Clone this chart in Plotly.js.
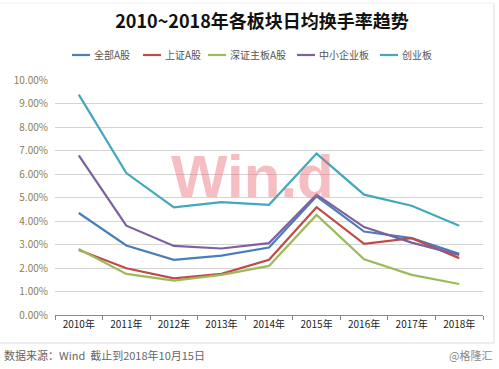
<!DOCTYPE html>
<html><head><meta charset="utf-8">
<script src="https://cdn.plot.ly/plotly-3.0.1.min.js"></script>
<style>html,body{margin:0;padding:0;background:#fff}#c{width:499px;height:369px}</style>
</head><body><div id="c"></div>
<script>
var years = ["2010年","2011年","2012年","2013年","2014年","2015年","2016年","2017年","2018年"];
var allA = [4.34, 2.96, 2.35, 2.53, 2.87, 5.05, 3.55, 3.27, 2.60];
var shA = [2.77, 1.99, 1.56, 1.75, 2.35, 4.59, 3.03, 3.27, 2.42];
var szMain = [2.81, 1.75, 1.46, 1.71, 2.09, 4.26, 2.37, 1.71, 1.32];
var sme = [6.79, 3.80, 2.94, 2.83, 3.06, 5.12, 3.74, 3.08, 2.56];
var gem = [9.38, 6.04, 4.58, 4.80, 4.69, 6.87, 5.12, 4.65, 3.80];
var names = ["全部A股","上证A股","深证主板A股","中小企业板","创业板"];
var colors = ["#4a7ebb","#be4b48","#9bbb59","#7d60a0","#42a8bc"];
var series = [allA, shA, szMain, sme, gem];
var yTicks = [0,1,2,3,4,5,6,7,8,9,10];
var yTickText = yTicks.map(function(v){return v.toFixed(2)+"%";});

var F = '"Microsoft YaHei","Noto Sans CJK SC","DejaVu Sans",sans-serif';
var traces = series.map(function(s,i){
  return {x: years, y: s, name: names[i], type:'scatter', mode:'lines',
    line:{color:colors[i], width:2.2}};
});
var W=499, H=369;
var L=55, R=483, T=80, B=315;
function px(x){return (x-L)/(R-L);}
function py(y){return (B-y)/(B-T);}

// manual legend (swatch start x in px)
var legX = [72, 143, 208, 297, 380];
var legY = 55;
var annotations = [
  {text:'<b>Win.d</b>', xref:'paper', yref:'paper', x:px(252), y:py(176), xanchor:'center', yanchor:'middle', showarrow:false,
    font:{size:60, color:'rgba(232,110,120,0.45)', family:'"Liberation Sans",Arial,sans-serif'}},
  {text:'数据来源：Wind  截止到2018年10月15日', xref:'paper', yref:'paper', x:px(2), y:py(355), xanchor:'left', yanchor:'middle', showarrow:false,
    font:{size:11, color:'#666', family:F}},
  {text:'@格隆汇', xref:'paper', yref:'paper', x:px(494), y:py(355), xanchor:'right', yanchor:'middle', showarrow:false,
    font:{size:11, color:'#888', family:F}}
];
var shapes = [
  {type:'line', xref:'paper', yref:'paper', x0:px(0), x1:px(494), y0:py(343), y1:py(343), line:{color:'#ddd', width:1}},
  {type:'line', xref:'paper', yref:'paper', x0:px(494), x1:px(494), y0:py(3), y1:py(343), line:{color:'#ddd', width:1}},
  {type:'line', xref:'paper', yref:'paper', x0:px(0), x1:px(494), y0:py(3), y1:py(3), line:{color:'#eee', width:1}}
];
names.forEach(function(n,i){
  shapes.push({type:'line', xref:'paper', yref:'paper', x0:px(legX[i]), x1:px(legX[i]+18), y0:py(legY), y1:py(legY),
    line:{color:colors[i], width:2.2}});
  annotations.push({text:n, xref:'paper', yref:'paper', x:px(legX[i]+20), y:py(legY), xanchor:'left', yanchor:'middle',
    showarrow:false, font:{size:10, color:'#555', family:F}});
});

var layout = {
  width:W, height:H,
  margin:{l:L, r:W-R, t:T, b:H-B},
  paper_bgcolor:'#fff', plot_bgcolor:'#fff',
  font:{family:F, color:'#444'},
  title:{text:'<b>2010~2018年各板块日均换手率趋势</b>', font:{size:18, color:'#111', family:F},
    x:262/W, xref:'container', y:1-22/H, yref:'container', yanchor:'middle', xanchor:'center'},
  showlegend:false,
  xaxis:{type:'category', range:[-0.5,8.5], showgrid:false, showline:true, linecolor:'#888', linewidth:1,
    ticks:'outside', ticklen:4, tickcolor:'#888', tickson:'boundaries', tickfont:{size:10, color:'#222'}, fixedrange:true},
  yaxis:{range:[0,10], tickvals:yTicks, ticktext:yTickText, showgrid:true, gridcolor:'#d4d4d4', gridwidth:1,
    zeroline:false, showline:false, tickfont:{size:10, color:'#8a8055'}, ticklen:0, ticklabelstandoff:6, fixedrange:true},
  annotations:annotations,
  shapes:shapes
};
Plotly.newPlot('c', traces, layout, {displayModeBar:false, staticPlot:true});
</script></body></html>
